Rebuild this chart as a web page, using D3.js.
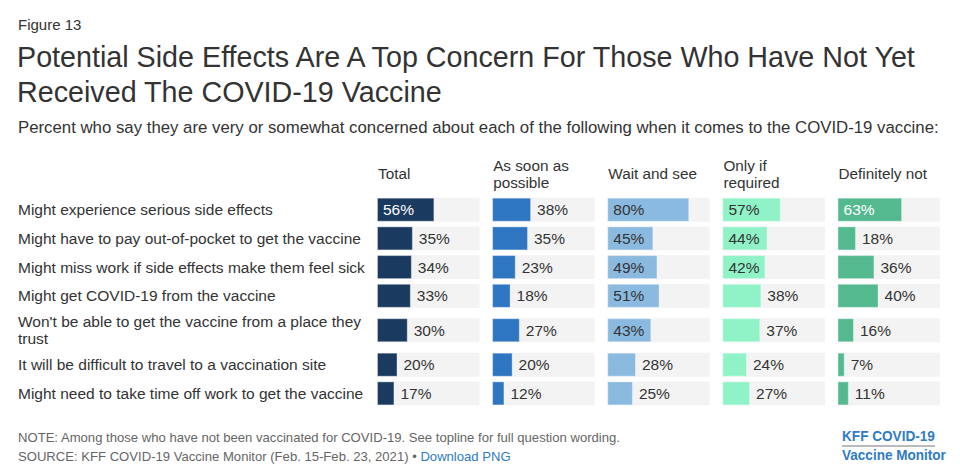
<!DOCTYPE html>
<html>
<head>
<meta charset="utf-8">
<script src="https://cdn.jsdelivr.net/npm/d3@7"></script>
<style>
  html, body { margin: 0; padding: 0; background: #fff; }
  svg { display: block; font-family: "Liberation Sans", Arial, Helvetica, sans-serif; }
</style>
</head>
<body>
<svg id="chart" width="960" height="474"></svg>
<script>
// ---- Data ----
const categories = [
  "Might experience serious side effects",
  "Might have to pay out-of-pocket to get the vaccine",
  "Might miss work if side effects make them feel sick",
  "Might get COVID-19 from the vaccine",
  "Won't be able to get the vaccine from a place they trust",
  "It will be difficult to travel to a vaccination site",
  "Might need to take time off work to get the vaccine"
];
const groups = ["Total", "As soon as possible", "Wait and see", "Only if required", "Definitely not"];
const groupHeaderLines = [["Total"], ["As soon as", "possible"], ["Wait and see"], ["Only if", "required"], ["Definitely not"]];
const totalValues    = [56, 35, 34, 33, 30, 20, 17];
const asapValues     = [38, 35, 23, 18, 27, 20, 12];
const waitValues     = [80, 45, 49, 51, 43, 28, 25];
const onlyIfValues   = [57, 44, 42, 38, 37, 24, 27];
const definitelyNotValues = [63, 18, 36, 40, 16, 7, 11];
const seriesValues = [totalValues, asapValues, waitValues, onlyIfValues, definitelyNotValues];
const colors = ["#1b3a5f", "#2e75c2", "#8bbae0", "#8ff3c7", "#55b98f"];
const insideTextColors = ["#ffffff", "#ffffff", "#333333", "#333333", "#ffffff"];

// ---- Text ----
const figureLabel = "Figure 13";
const titleLines = ["Potential Side Effects Are A Top Concern For Those Who Have Not Yet", "Received The COVID-19 Vaccine"];
const subtitle = "Percent who say they are very or somewhat concerned about each of the following when it comes to the COVID-19 vaccine:";
const noteText = "NOTE: Among those who have not been vaccinated for COVID-19. See topline for full question wording.";
const sourceText = "SOURCE: KFF COVID-19 Vaccine Monitor (Feb. 15-Feb. 23, 2021) \u2022 ";
const downloadText = "Download PNG";
const logoLines = ["KFF COVID-19", "Vaccine Monitor"];

const svg = d3.select("#chart");
const textColor = "#333";

svg.append("text").attr("x", 18).attr("y", 30).attr("font-size", 15).attr("fill", textColor).text(figureLabel);
titleLines.forEach((t, i) => {
  svg.append("text").attr("x", 17).attr("y", 67 + i * 35).attr("font-size", 28.7).attr("fill", textColor).text(t);
});
svg.append("text").attr("x", 18).attr("y", 133).attr("font-size", 16.8).attr("fill", textColor).text(subtitle);

// ---- Scales ----
const panel = d3.scaleBand().domain(groups).range([377, 940]).paddingInner(0.11).paddingOuter(0);
const x = d3.scaleLinear().domain([0, 100]).range([0, panel.bandwidth()]);

// Row labels with wrapping; compute row band heights
const labelX = 18, labelMax = 366, fontSize = 15.5, lineH = 17;
const g = svg.append("g");
const labels = g.selectAll("text.cat").data(categories).join("text")
  .attr("class", "cat").attr("x", labelX).attr("font-size", fontSize).attr("fill", textColor);

const wrapped = [];
labels.each(function(d) {
  const el = d3.select(this);
  const words = d.split(" ");
  let lines = [], cur = [];
  const probe = el.append("tspan");
  words.forEach(w => {
    cur.push(w);
    probe.text(cur.join(" "));
    if (probe.node().getComputedTextLength() > labelMax && cur.length > 1) {
      cur.pop(); lines.push(cur.join(" ")); cur = [w];
    }
  });
  lines.push(cur.join(" "));
  probe.remove();
  wrapped.push(lines);
});

const barH = 24, pitch = 28.7, extraPerLine = 11.5;
let bandStart = 197.7 - (pitch - barH) / 2;
const rowTop = [], rowCenter = [];
wrapped.forEach(lines => {
  const h = pitch + (lines.length - 1) * extraPerLine;
  rowTop.push(bandStart + (h - barH) / 2);
  rowCenter.push(bandStart + h / 2);
  bandStart += h;
});

labels.each(function(d, i) {
  const el = d3.select(this);
  const lines = wrapped[i];
  const first = rowCenter[i] + 5.5 - (lines.length - 1) * lineH / 2;
  lines.forEach((ln, j) => {
    el.append("tspan").attr("x", labelX).attr("y", first + j * lineH).text(ln);
  });
});

// Headers
groups.forEach((grp, gi) => {
  const lines = groupHeaderLines[gi];
  const base = 179 - (lines.length - 1) * lineH / 2;
  const t = svg.append("text").attr("font-size", 15.3).attr("fill", textColor);
  lines.forEach((ln, j) => {
    t.append("tspan").attr("x", panel(grp) + 1).attr("y", base + j * lineH).text(ln);
  });
});

// Panels
groups.forEach((grp, gi) => {
  const pg = svg.append("g").attr("transform", `translate(${panel(grp)},0)`);
  const vals = seriesValues[gi];
  pg.selectAll("rect.bg").data(vals).join("rect").attr("class", "bg")
    .attr("x", 0).attr("y", (d, i) => rowTop[i]).attr("width", panel.bandwidth()).attr("height", barH)
    .attr("fill", "#f3f3f3");
  pg.selectAll("rect.bar").data(vals).join("rect").attr("class", "bar")
    .attr("x", 0.5).attr("y", (d, i) => rowTop[i] + 0.5).attr("width", d => Math.max(0, x(d) - 1)).attr("height", barH - 1)
    .attr("fill", colors[gi]).attr("stroke", "rgba(255,255,255,0.35)").attr("stroke-width", 1);
  pg.selectAll("text.val").data(vals).join("text").attr("class", "val")
    .attr("x", d => d >= 41 ? 6 : x(d) + 6)
    .attr("y", (d, i) => rowCenter[i] + 5.5)
    .attr("font-size", 15.5)
    .attr("fill", d => d >= 41 ? insideTextColors[gi] : textColor)
    .text(d => d + "%");
});

// Footer
svg.append("text").attr("x", 18).attr("y", 442).attr("font-size", 13.1).attr("fill", "#666").text(noteText);
const src = svg.append("text").attr("x", 18).attr("y", 461).attr("font-size", 13.1).attr("fill", "#666");
src.append("tspan").text(sourceText);
src.append("tspan").attr("fill", "#2f7bc4").text(downloadText);

// Logo (condensed look via horizontal scaling)
const logoTargets = [93, 104];
const logoBaselines = [441, 460];
logoLines.forEach((t, i) => {
  const el = svg.append("text").attr("font-size", 14).attr("font-weight", "bold").attr("fill", "#2f7bc4").text(t);
  const w = el.node().getComputedTextLength();
  const s = logoTargets[i] / w;
  el.attr("transform", `translate(842,${logoBaselines[i]}) scale(${s},1)`);
});
svg.append("line").attr("x1", 842).attr("x2", 935).attr("y1", 446).attr("y2", 446).attr("stroke", "#777").attr("stroke-width", 1);
</script>
</body>
</html>
